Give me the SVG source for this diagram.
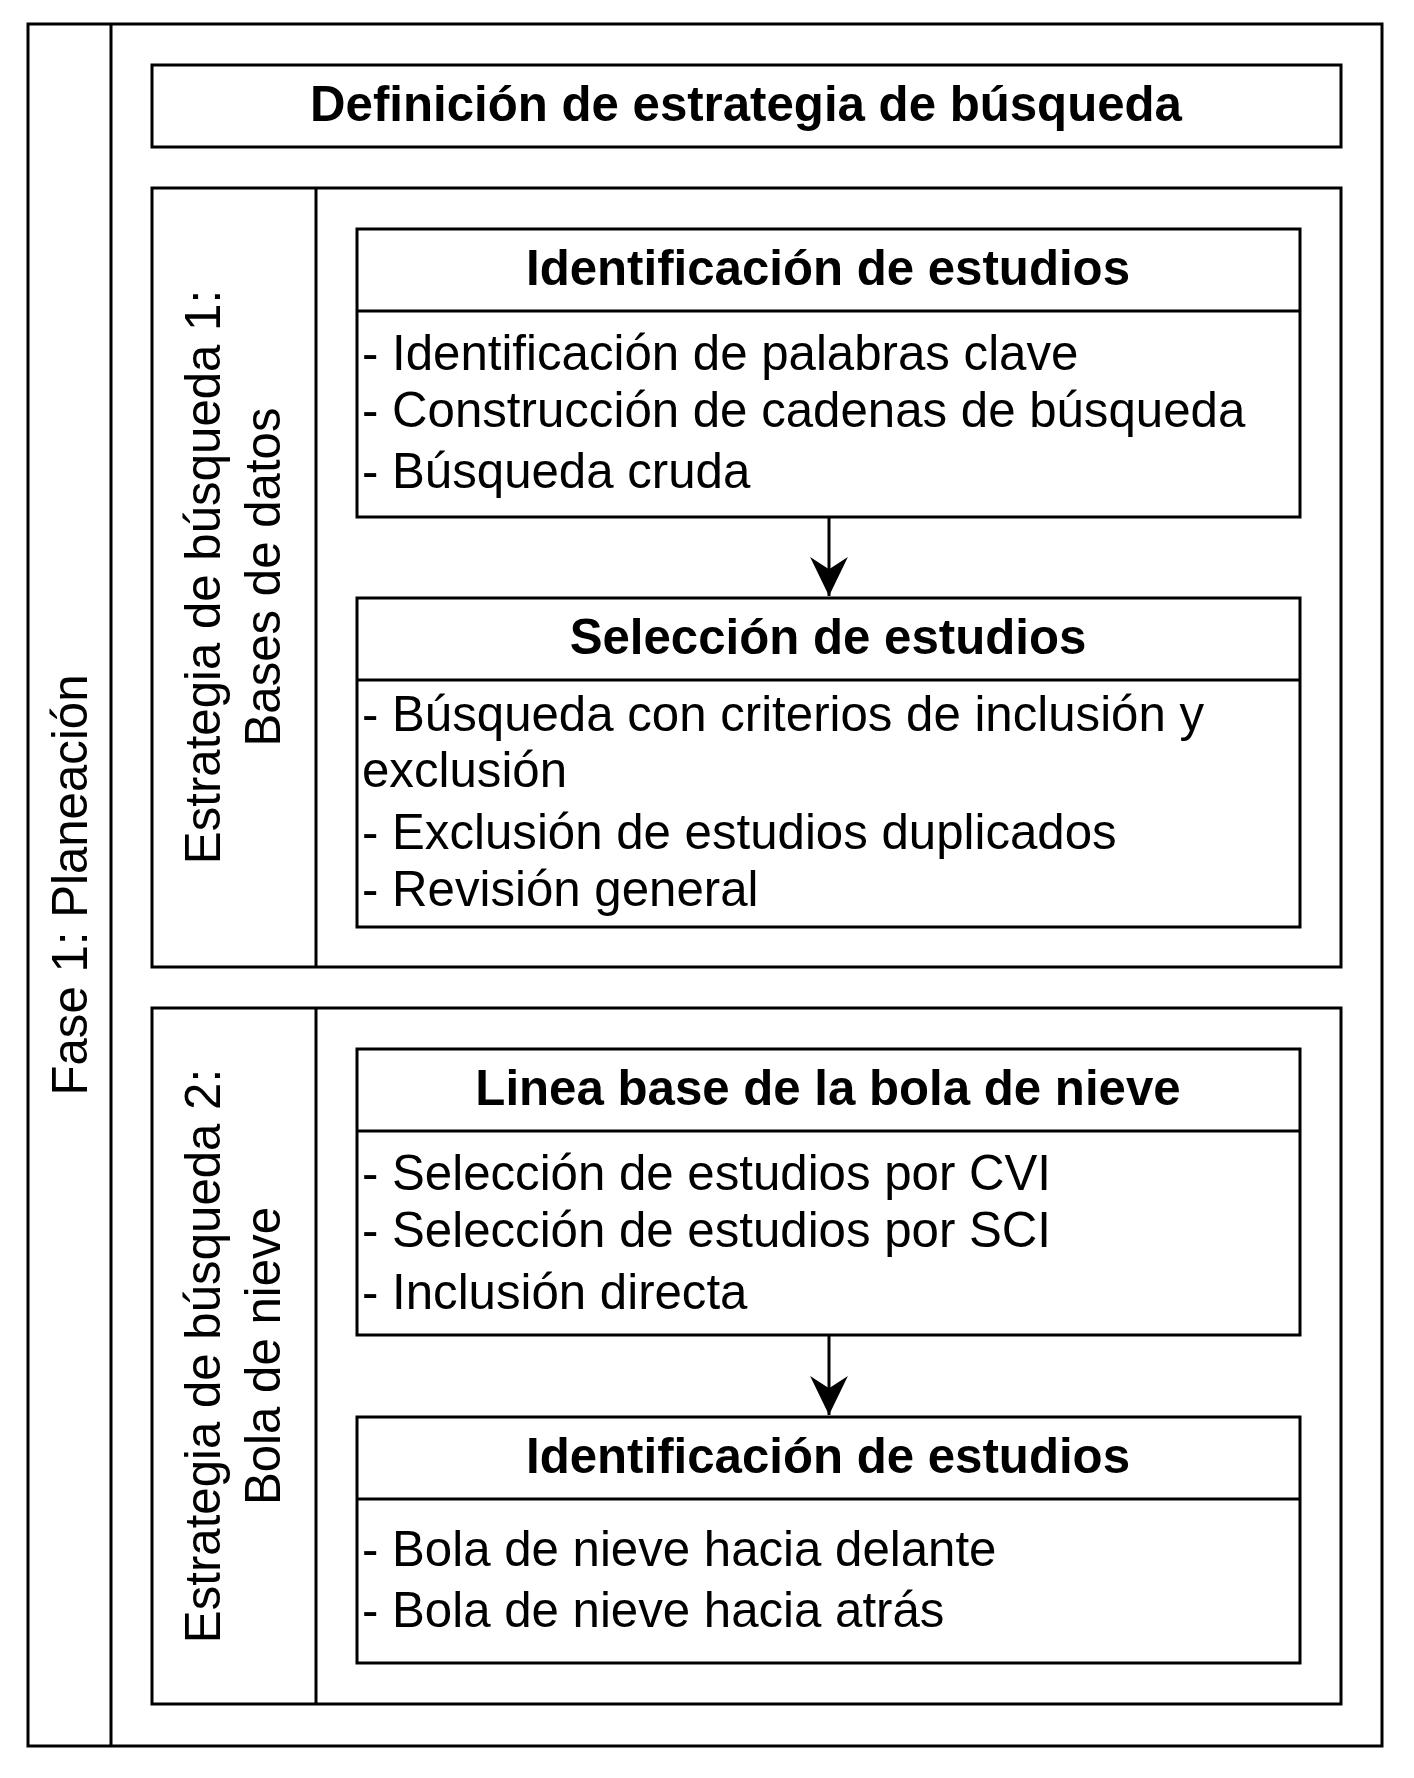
<svg xmlns="http://www.w3.org/2000/svg" width="1414" height="1778" viewBox="0 0 1414 1778">
<style>
.box{fill:#fff;stroke:#000;stroke-width:3}
.ln{fill:none;stroke:#000;stroke-width:3}
.t{font-family:"Liberation Sans",Arial,Helvetica,sans-serif;font-size:49.2px;fill:#000}
.b{font-weight:bold;text-anchor:middle}
.m{text-anchor:middle}
</style>
<defs>
<marker id="arr" markerUnits="userSpaceOnUse" markerWidth="40" markerHeight="40" viewBox="0 0 36 34" refX="35" refY="17" orient="auto">
<path d="M0,0 L35,17 L0,34 L11,17 Z" fill="#000"/>
</marker>
</defs>
<rect width="1414" height="1778" fill="#fff"/>
<g id="fase1">
<rect class="box" x="28" y="24" width="1354" height="1722"/>
<line class="ln" x1="111" y1="24" x2="111" y2="1746"/>
<text class="t m" transform="translate(87,885) rotate(-90)">Fase 1: Planeación</text>
</g>
<g id="definicion">
<rect class="box" x="152" y="65" width="1189" height="82"/>
<text class="t b" x="746" y="121">Definición de estrategia de búsqueda</text>
</g>
<g id="estrategia1">
<rect class="box" x="152" y="188" width="1189" height="779"/>
<line class="ln" x1="316" y1="188" x2="316" y2="967"/>
<text class="t m" transform="translate(220,577) rotate(-90)">Estrategia de búsqueda 1:</text>
<text class="t m" transform="translate(280,577) rotate(-90)">Bases de datos</text>
</g>
<g id="identificacion1">
<rect class="box" x="357" y="229" width="943" height="288"/>
<line class="ln" x1="357" y1="311" x2="1300" y2="311"/>
<text class="t b" x="828" y="285">Identificación de estudios</text>
<text class="t" x="362" y="370">- Identificación de palabras clave</text>
<text class="t" x="362" y="427">- Construcción de cadenas de búsqueda</text>
<text class="t" x="362" y="488">- Búsqueda cruda</text>
</g>
<g id="seleccion">
<rect class="box" x="357" y="598" width="943" height="329"/>
<line class="ln" x1="357" y1="680" x2="1300" y2="680"/>
<text class="t b" x="828" y="654">Selección de estudios</text>
<text class="t" x="362" y="731">- Búsqueda con criterios de inclusión y</text>
<text class="t" x="362" y="787">exclusión</text>
<text class="t" x="362" y="849">- Exclusión de estudios duplicados</text>
<text class="t" x="362" y="906">- Revisión general</text>
</g>
<g id="estrategia2">
<rect class="box" x="152" y="1008" width="1189" height="696"/>
<line class="ln" x1="316" y1="1008" x2="316" y2="1704"/>
<text class="t m" transform="translate(220,1356) rotate(-90)">Estrategia de búsqueda 2:</text>
<text class="t m" transform="translate(280,1356) rotate(-90)">Bola de nieve</text>
</g>
<g id="lineabase">
<rect class="box" x="357" y="1049" width="943" height="286"/>
<line class="ln" x1="357" y1="1131" x2="1300" y2="1131"/>
<text class="t b" x="828" y="1105">Linea base de la bola de nieve</text>
<text class="t" x="362" y="1190">- Selección de estudios por CVI</text>
<text class="t" x="362" y="1247">- Selección de estudios por SCI</text>
<text class="t" x="362" y="1309">- Inclusión directa</text>
</g>
<g id="identificacion2">
<rect class="box" x="357" y="1417" width="943" height="246"/>
<line class="ln" x1="357" y1="1499" x2="1300" y2="1499"/>
<text class="t b" x="828" y="1473">Identificación de estudios</text>
<text class="t" x="362" y="1566">- Bola de nieve hacia delante</text>
<text class="t" x="362" y="1627">- Bola de nieve hacia atrás</text>
</g>
<g id="connectors">
<line class="ln" x1="829" y1="517" x2="829" y2="596" marker-end="url(#arr)"/>
<line class="ln" x1="829" y1="1335" x2="829" y2="1415" marker-end="url(#arr)"/>
</g>
</svg>
